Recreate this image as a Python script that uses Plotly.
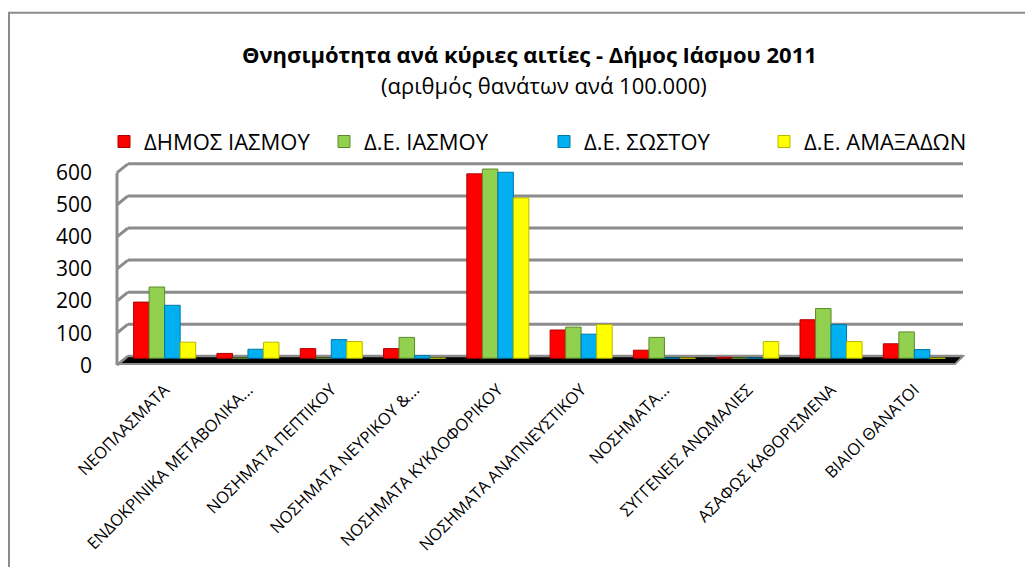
import plotly.graph_objects as go

categories = [
    "ΝΕΟΠΛΑΣΜΑΤΑ",
    "ΕΝΔΟΚΡΙΝΙΚΑ ΜΕΤΑΒΟΛΙΚΑ...",
    "ΝΟΣΗΜΑΤΑ ΠΕΠΤΙΚΟΥ",
    "ΝΟΣΗΜΑΤΑ ΝΕΥΡΙΚΟΥ &...",
    "ΝΟΣΗΜΑΤΑ ΚΥΚΛΟΦΟΡΙΚΟΥ",
    "ΝΟΣΗΜΑΤΑ ΑΝΑΠΝΕΥΣΤΙΚΟΥ",
    "ΝΟΣΗΜΑΤΑ...",
    "ΣΥΓΓΕΝΕΙΣ ΑΝΩΜΑΛΙΕΣ",
    "ΑΣΑΦΩΣ ΚΑΘΟΡΙΣΜΕΝΑ",
    "ΒΙΑΙΟΙ ΘΑΝΑΤΟΙ",
]
dimos_iasmou = [175, 15, 30, 30, 575, 88, 25, 3, 120, 45]
de_iasmou = [222, 0, 0, 65, 590, 97, 65, 0, 155, 82]
de_sostou = [165, 28, 58, 8, 580, 75, 0, 0, 105, 27]
de_amaxadon = [50, 50, 52, 0, 500, 105, 0, 52, 52, 0]

series_names = ["ΔΗΜΟΣ ΙΑΣΜΟΥ", "Δ.Ε. ΙΑΣΜΟΥ", "Δ.Ε. ΣΩΣΤΟΥ", "Δ.Ε. ΑΜΑΞΑΔΩΝ"]
series_values = [dimos_iasmou, de_iasmou, de_sostou, de_amaxadon]
colors = ["#FF0000", "#92D050", "#00B0F0", "#FFFF00"]
edge_colors = ["#B00000", "#5E8A2A", "#0078A8", "#B8B800"]
y_ticks = [0, 100, 200, 300, 400, 500, 600]

title_text = "Θνησιμότητα ανά κύριες αιτίες - Δήμος Ιάσμου 2011"
subtitle_text = "(αριθμός θανάτων ανά 100.000)"

FONT = "Open Sans"

OFF = 8                      # page body margin
W, H = 1025, 559
L, R, T, B = 115, 77, 150, 193
PW = W - L - R
PH = H - T - B
ZERO_PY = 362                # screen y of value 0 (bars)
SCALE = 0.3267               # px per unit
Y_MIN = -((H - B + OFF) - ZERO_PY) / SCALE
Y_MAX = (ZERO_PY - (T + OFF)) / SCALE


def px_x(px):
    return (px - OFF - L) / PW


def px_y(py):
    return ((H - B) - (py - OFF)) / PH


def val_py(v):
    return ZERO_PY - SCALE * v


fig = go.Figure()
for name, vals, c, ec in zip(series_names, series_values, colors, edge_colors):
    fig.add_trace(go.Bar(
        x=categories, y=vals, name=name,
        marker=dict(color=c, line=dict(color=ec, width=1)),
    ))

GRID = "#8C8C8C"
shapes = []
for v in y_ticks:
    front = val_py(v) + 7
    back = val_py(v) - 2
    shapes.append(dict(type="line", xref="paper", yref="paper",
                       x0=px_x(117), y0=px_y(front), x1=px_x(128), y1=px_y(back),
                       line=dict(color=GRID, width=3), layer="below"))
    shapes.append(dict(type="line", xref="paper", yref="paper",
                       x0=px_x(128), y0=px_y(back), x1=px_x(963), y1=px_y(back),
                       line=dict(color=GRID, width=3), layer="below"))
# left wall edge
shapes.append(dict(type="line", xref="paper", yref="paper",
                   x0=px_x(117), y0=px_y(val_py(0) + 7), x1=px_x(117), y1=px_y(val_py(600) + 7),
                   line=dict(color=GRID, width=3), layer="below"))
# floor
shapes.append(dict(type="path", xref="paper", yref="paper",
                   path=(f"M {px_x(119)} {px_y(368)} L {px_x(128)} {px_y(360)} "
                         f"L {px_x(963)} {px_y(360)} L {px_x(955)} {px_y(368)} Z"),
                   fillcolor="#000000", line=dict(color=GRID, width=2), layer="between"))
# outer chart border
shapes.append(dict(type="rect", xref="paper", yref="paper",
                   x0=px_x(9), y0=px_y(620), x1=px_x(1060), y1=px_y(10),
                   line=dict(color=GRID, width=2), fillcolor="rgba(0,0,0,0)", layer="below"))

annotations = [
    dict(text=f"<b>{title_text}</b>", xref="paper", yref="paper",
         x=px_x(529), y=px_y(52), xanchor="center", yanchor="middle", showarrow=False,
         font=dict(family=FONT, size=22, color="#000000")),
    dict(text=subtitle_text, xref="paper", yref="paper",
         x=px_x(544), y=px_y(84), xanchor="center", yanchor="middle", showarrow=False,
         font=dict(family=FONT, size=22, color="#000000")),
]

fig.update_layout(
    width=W, height=H,
    margin=dict(l=L, r=R, t=T, b=B, pad=0),
    paper_bgcolor="white", plot_bgcolor="rgba(0,0,0,0)",
    font=dict(family=FONT, color="#000000"),
    barmode="group", bargap=0.255, bargroupgap=0,
    showlegend=True,
    legend=dict(orientation="h", x=px_x(104), y=px_y(120), xanchor="left", yanchor="top",
                font=dict(family=FONT, size=22, color="#000000"),
                entrywidth=175, entrywidthmode="pixels", itemwidth=30,
                bgcolor="rgba(0,0,0,0)", traceorder="normal"),
    shapes=shapes,
    annotations=annotations,
    xaxis=dict(showgrid=False, zeroline=False, showline=False, tickangle=-45,
               tickfont=dict(family=FONT, size=16.5, color="#000000"),
               ticks="", ticklabelstandoff=6),
    yaxis=dict(range=[Y_MIN, Y_MAX], tickvals=y_ticks, showgrid=False, zeroline=False,
               showline=False, ticks="", ticklabelstandoff=30, ticklabelshift=7,
               tickfont=dict(family=FONT, size=21, color="#000000")),
)

fig.write_html("out.html")
